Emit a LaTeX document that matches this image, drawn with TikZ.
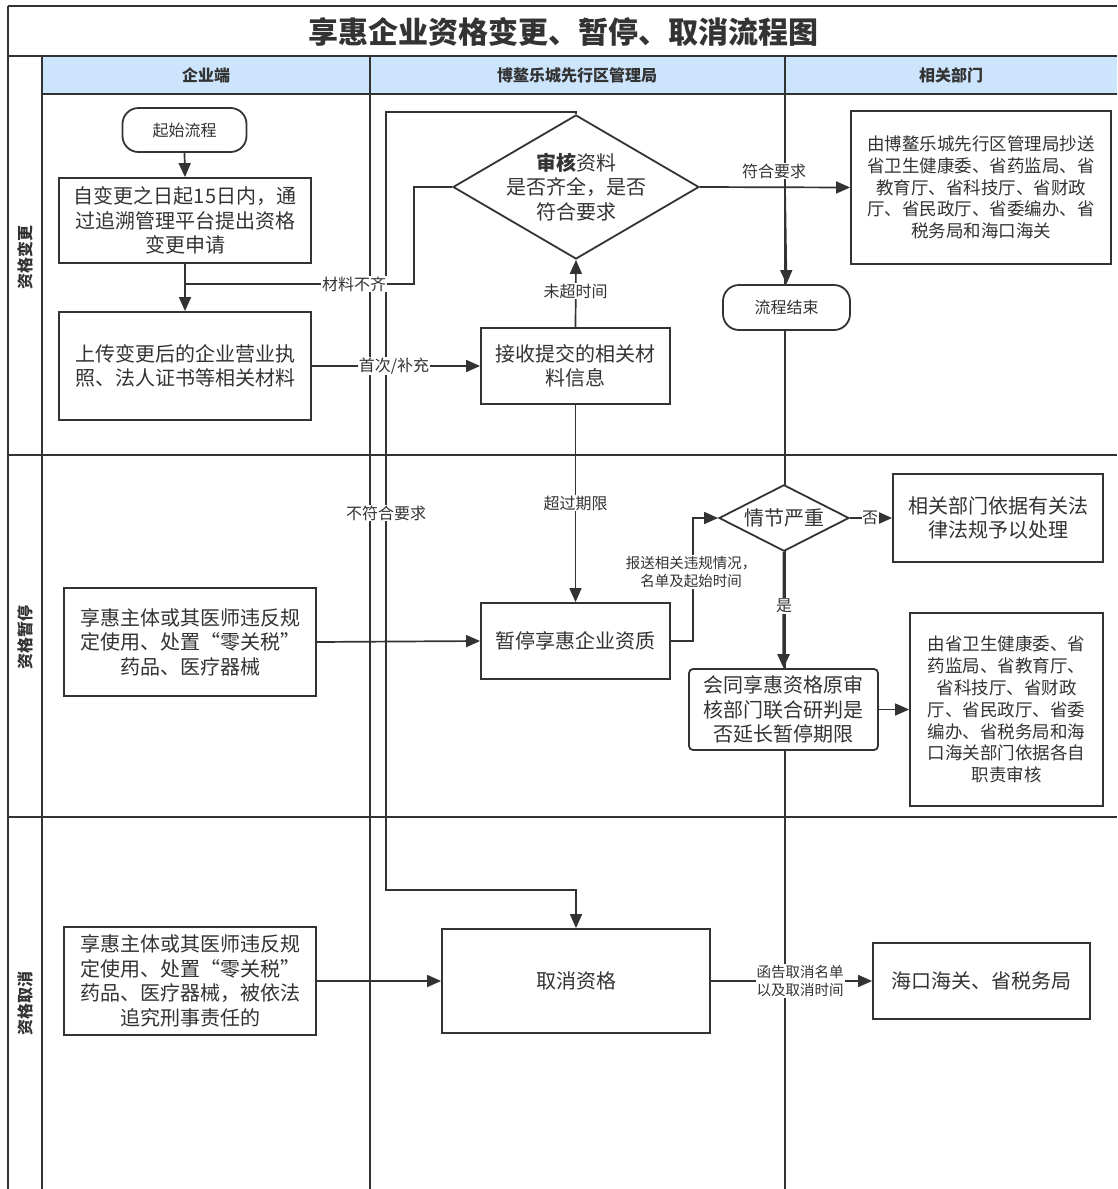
\documentclass[tikz,border=0pt]{standalone}
\usepackage{fontspec}
\setmainfont{Noto Sans CJK SC}
\usetikzlibrary{shapes.geometric,arrows.meta}
\definecolor{ink}{HTML}{333333}
\definecolor{hdr}{RGB}{204,228,252}
\begin{document}
\begin{tikzpicture}[x=1pt,y=-1pt,
  lane/.style={draw=ink,line width=1.7pt},
  box/.style={draw=ink,line width=1.8pt,fill=white,inner sep=0pt,align=center,text=ink,font=\fontsize{20}{24.5}\selectfont},
  sbox/.style={box,font=\fontsize{17.5}{21.8}\selectfont},
  term/.style={box,rounded corners=16pt,font=\fontsize{16}{20}\selectfont},
  dia/.style={box,diamond,inner sep=-16pt},
  conn/.style={draw=ink,line width=1.7pt},
  arr/.style={conn,-{Triangle[length=14pt,width=12pt]}},
  lbl/.style={fill=white,inner sep=1pt,text=ink,align=center,font=\fontsize{16}{18}\selectfont},
  slbl/.style={lbl,font=\fontsize{14.5}{18}\selectfont},
  hdrtext/.style={text=ink,font=\fontsize{16}{20}\selectfont\bfseries},
  lanetext/.style={text=ink,rotate=90,font=\fontsize{16}{20}\selectfont\bfseries}
]
\useasboundingbox (0,0) rectangle (1117,1189);
\clip (0,0) rectangle (1117,1189);
% ---- swimlane frame ----
\fill[hdr] (42,56) rectangle (1117,94);
\draw[lane] (8,6) -- (1117,6);
\draw[lane] (8,6) -- (8,1189);
\draw[lane] (8,56) -- (1117,56);
\draw[lane] (42,94) -- (1117,94);
\draw[lane] (42,56) -- (42,1189);
\draw[lane] (370,56) -- (370,1189);
\draw[lane] (785,56) -- (785,1189);
\draw[lane] (8,455) -- (1117,455);
\draw[lane] (8,817) -- (1117,817);
\node[text=ink,font=\fontsize{30}{36}\selectfont\bfseries] (title) at (563,32) {享惠企业资格变更、暂停、取消流程图};
\node[hdrtext] (h1) at (206,75) {企业端};
\node[hdrtext] (h2) at (577,75) {博鳌乐城先行区管理局};
\node[hdrtext] (h3) at (951,75) {相关部门};
\node[lanetext] (l1) at (25,257) {资格变更};
\node[lanetext] (l2) at (25,637) {资格暂停};
\node[lanetext] (l3) at (25,1003) {资格取消};
% ---- nodes ----
\node[term,minimum width=124pt,minimum height=44pt] (start) at (184.5,130) {起始流程};
\node[box,minimum width=252pt,minimum height=85pt] (b1) at (185,220.5) {自变更之日起15日内，通\\过追溯管理平台提出资格\\变更申请};
\node[box,minimum width=252pt,minimum height=108pt] (b2) at (185,366) {上传变更后的企业营业执\\照、法人证书等相关材料};
\node[dia,minimum width=246pt,minimum height=123pt] (d1) at (576,187) {\textbf{审核}资料\\是否齐全，是否\\符合要求};
\node[sbox,minimum width=260pt,minimum height=153pt] (r1) at (981,187.5) {由博鳌乐城先行区管理局抄送\\省卫生健康委、省药监局、省\\教育厅、省科技厅、省财政\\厅、省民政厅、省委编办、省\\税务局和海口海关};
\node[term,minimum width=127pt,minimum height=45pt] (end) at (786.5,307.5) {流程结束};
\node[box,minimum width=189pt,minimum height=76pt] (recv) at (575.5,366) {接收提交的相关材\\料信息};
\node[box,minimum width=252pt,minimum height=108pt] (s1) at (190,642) {享惠主体或其医师违反规\\定使用、处置“零关税”\\药品、医疗器械};
\node[box,minimum width=189pt,minimum height=76pt] (pause) at (575.5,641) {暂停享惠企业资质};
\node[dia,inner sep=-8pt,minimum width=130pt,minimum height=50pt] (d2) at (784,518) {情节严重};
\node[box,minimum width=210pt,minimum height=88pt] (r2) at (998,518) {相关部门依据有关法\\律法规予以处理};
\node[box,rounded corners=4pt,minimum width=189pt,minimum height=81pt] (joint) at (783.5,709.5) {会同享惠资格原审\\核部门联合研判是\\否延长暂停期限};
\node[sbox,minimum width=193pt,minimum height=193pt] (r3) at (1006.5,709.5) {由省卫生健康委、省\\药监局、省教育厅、\\省科技厅、省财政\\厅、省民政厅、省委\\编办、省税务局和海\\口海关部门依据各自\\职责审核};
\node[box,minimum width=252pt,minimum height=108pt] (c1) at (190,981) {享惠主体或其医师违反规\\定使用、处置“零关税”\\药品、医疗器械，被依法\\追究刑事责任的};
\node[box,minimum width=268pt,minimum height=104pt] (cancel) at (576,981) {取消资格};
\node[box,minimum width=217pt,minimum height=76pt] (r4) at (981.5,981) {海口海关、省税务局};
% ---- bend points ----
\coordinate (lt) at (386,112);
\coordinate (lb) at (386,890);
\coordinate (m1) at (414,187);
\coordinate (j1) at (185,284);
\coordinate (f1) at (785,187);
\coordinate (p1) at (693,641);
% ---- connectors ----
\draw[arr] (d1.north) |- (lt) -- (lb) -| (cancel.north);
\node[lbl] (t1) at (386,513) {不符合要求};
\draw[arr] (start.south) -- (b1.north);
\draw[arr] (b1.south) -- (b2.north);
\draw[conn] (d1.west) -- (m1) |- (j1);
\node[lbl] (t2) at (354,284) {材料不齐};
\draw[arr] (b2.east) -- (recv.west);
\node[lbl] (t3) at (394,366) {首次/补充};
\draw[arr] (recv.north) -- (d1.south);
\node[lbl] (t4) at (575.5,291) {未超时间};
\draw[arr] (d1.east) -- (r1.west);
\node[lbl] (t5) at (774,171) {符合要求};
\draw[arr] (f1) -- (end.north);
\draw[arr] (recv.south) -- (pause.north);
\node[lbl] (t6) at (575.5,503) {超过期限};
\draw[arr] (s1.east) -- (pause.west);
\draw[arr] (pause.east) -- (p1) |- (d2.west);
\node[slbl] (t7) at (691,572) {报送相关违规情况，\\名单及起始时间};
\draw[arr] (d2.east) -- (r2.west);
\node[lbl,inner sep=0.5pt] (t8) at (870,518) {否};
\draw[arr,line width=2.6pt] (d2.south) -- (joint.north);
\node[lbl] (t9) at (784,606) {是};
\draw[arr] (joint.east) -- (r3.west);
\draw[arr] (c1.east) -- (cancel.west);
\draw[arr] (cancel.east) -- (r4.west);
\node[slbl] (t10) at (800,981) {函告取消名单\\以及取消时间};
\end{tikzpicture}
\end{document}
